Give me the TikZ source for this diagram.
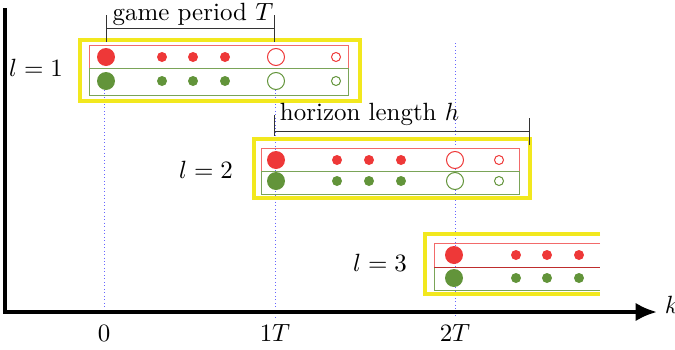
\documentclass[tikz,border=0pt]{standalone}
\usepackage{amsmath}
\usetikzlibrary{arrows.meta,positioning}
\definecolor{dotred}{RGB}{238,56,56}
\definecolor{dotgreen}{RGB}{98,148,58}
\definecolor{hilite}{RGB}{242,232,30}
\tikzset{
  axis/.style={-{Latex[length=3mm,width=2.6mm]}, line width=1.6pt, black},
  yaxis/.style={line width=1.6pt, black},
  level/.style={draw=hilite, line width=1.3pt},
  redrow/.style={draw=dotred!75, thin},
  greenrow/.style={draw=dotgreen!85, thin},
  grid/.style={blue!60, densely dotted, thin},
  brace/.style={black!80, thin},
  note/.style={inner sep=1pt}
}

\begin{document}
\begin{tikzpicture}[x=0.0141cm, y=-0.0141cm]
  \useasboundingbox (0,0) rectangle (675,350);

  % time grid
  \draw[grid] (104,90) -- (104,313);
  \draw[grid] (275,90) -- (275,317);
  \draw[grid] (455,43) -- (455,318);

  % axes
  \draw[yaxis] (5,8) -- (5,313);
  \coordinate (O) at (3,312);
  \coordinate (K) at (657,312);
  \draw[axis] (O) -- (K);
  \node[note, right=2pt of K, yshift=3pt] (klab) {$k$};
  \node[note] (t0) at (104,333) {$0$};
  \node[note] (t1) at (275,333) {$1T$};
  \node[note] (t2) at (455,333) {$2T$};

  % level 1
  \draw[level] (80,40) rectangle (360,101);
  \draw[redrow] (89,45) rectangle (348,68);
  \draw[greenrow] (89,68) rectangle (348,95);
  \fill[dotred] (106,57) circle[radius=9];
  \fill[dotgreen] (106,81) circle[radius=9];
  \foreach \x in {162,193,225} {
    \fill[dotred] (\x,57) circle[radius=5];
    \fill[dotgreen] (\x,81) circle[radius=5];
  }
  \draw[dotred, thin, fill=white] (276,57) circle[radius=8.5];
  \draw[dotgreen, thin, fill=white] (276,81) circle[radius=8.5];
  \draw[dotred, thin] (336,57) circle[radius=4.5];
  \draw[dotgreen, thin] (336,81) circle[radius=4.5];
  \node[note] (l1) at (36,68) {$l=1$};

  % game period
  \coordinate (gpa) at (106,28);
  \coordinate (gpb) at (274,28);
  \draw[brace] (gpa) -- (gpb);
  \draw[brace] (106,15) -- (106,42);
  \draw[brace] (274,15) -- (274,42);
  \node[note] (gp) at (193,14) {game period $T$};

  % level 2
  \draw[level] (254,139) rectangle (530,198);
  \draw[redrow] (261,148) rectangle (519,171);
  \draw[greenrow] (261,171) rectangle (519,194);
  \fill[dotred] (276,160) circle[radius=9];
  \fill[dotgreen] (276,181) circle[radius=9];
  \foreach \x in {337,369,401} {
    \fill[dotred] (\x,160) circle[radius=5];
    \fill[dotgreen] (\x,181) circle[radius=5];
  }
  \draw[dotred, thin, fill=white] (455,160) circle[radius=8.5];
  \draw[dotgreen, thin, fill=white] (455,181) circle[radius=8.5];
  \draw[dotred, thin] (499,160) circle[radius=4.5];
  \draw[dotgreen, thin] (499,181) circle[radius=4.5];
  \node[note] (l2) at (206,170) {$l=2$};

  % horizon length
  \coordinate (hla) at (274,131);
  \coordinate (hlb) at (529,131);
  \draw[brace] (hla) -- (hlb);
  \draw[brace] (274,115) -- (274,136);
  \draw[brace] (529,118) -- (529,145);
  \node[note, anchor=south west] (hl) at (277,129) {horizon length $h$};

  % level 3 (runs on past the edge)
  \draw[level] (600,234) -- (425,234) -- (425,294) -- (600,294);
  \draw[redrow] (600,243) -- (434,243) -- (434,290) -- (600,290);
  \draw[greenrow] (434,267) -- (434,290) -- (600,290);
  \draw[dotred!80!black, thin] (434,267) -- (600,267);
  \fill[dotred] (454,255) circle[radius=9];
  \fill[dotgreen] (454,278) circle[radius=9];
  \foreach \x in {516,547,579} {
    \fill[dotred] (\x,255) circle[radius=5];
    \fill[dotgreen] (\x,278) circle[radius=5];
  }
  \node[note] (l3) at (380,263) {$l=3$};
\end{tikzpicture}
\end{document}
